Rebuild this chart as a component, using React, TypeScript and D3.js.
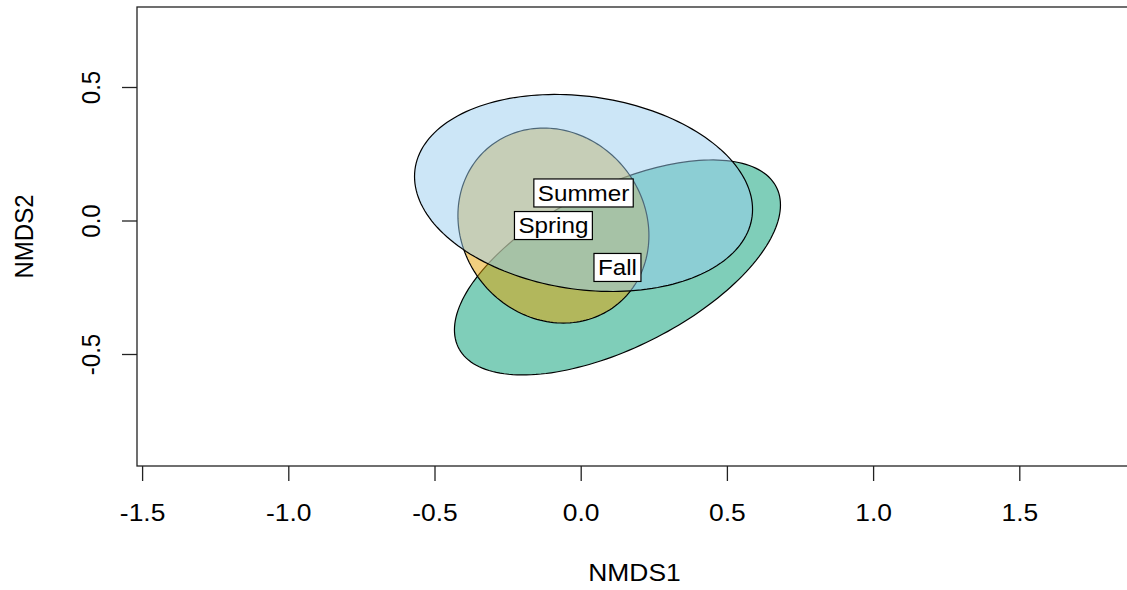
import { useEffect, useRef } from "react";
import * as d3 from "d3";

const WIDTH = 1127;
const HEIGHT = 590;
const PLOT = { left: 137, right: 1132, top: 7, bottom: 466 };

// axis calibration (value -> pixel)
const X_DOMAIN = [-1.5, 1.5];
const X_RANGE = [142.6, 1019.8];
const Y_DOMAIN = [-0.5, 0.5];
const Y_RANGE = [354.5, 87.5];

const X_TICKS = [-1.5, -1.0, -0.5, 0.0, 0.5, 1.0, 1.5];
const Y_TICKS = [-0.5, 0.0, 0.5];

// ellipse groups, in drawing order (factor levels)
const GROUPS = ["Fall", "Spring", "Summer"];
const CENTER_X = [0.124, -0.095, 0.008];
const CENTER_Y = [-0.174, -0.017, 0.105];
const SD_X = [0.5575, 0.3266, 0.578];
const SD_Y = [0.4026, 0.3652, 0.369];
const CORR = [0.581, -0.103, -0.167];
const FILLS = ["#009E73", "#E69F00", "#99CDEF"];

const FONT = "'Liberation Sans', Arial, Helvetica, sans-serif";
const SX = 1.1; // the picture is slightly stretched horizontally

export default function App() {
  const svgRef = useRef<SVGSVGElement | null>(null);

  useEffect(() => {
    const svg = d3.select(svgRef.current);
    svg.selectAll("*").remove();

    const x = d3.scaleLinear().domain(X_DOMAIN).range(X_RANGE);
    const y = d3.scaleLinear().domain(Y_DOMAIN).range(Y_RANGE);

    // ellipses
    const angles = d3.range(0, 360, 2).map((d) => (d * Math.PI) / 180);
    const line = d3
      .line<[number, number]>()
      .x((p) => x(p[0]))
      .y((p) => y(p[1]))
      .curve(d3.curveLinearClosed);

    const ellG = svg.append("g").attr("class", "ellipses");
    GROUPS.forEach((g, i) => {
      const r = CORR[i];
      const pts = angles.map(
        (t) =>
          [
            CENTER_X[i] + SD_X[i] * Math.cos(t),
            CENTER_Y[i] + SD_Y[i] * (r * Math.cos(t) + Math.sqrt(1 - r * r) * Math.sin(t)),
          ] as [number, number]
      );
      ellG
        .append("path")
        .attr("d", line(pts))
        .attr("fill", FILLS[i])
        .attr("fill-opacity", 0.5)
        .attr("stroke", "#000")
        .attr("stroke-width", 1.2);
    });

    // group labels in white boxes
    const labG = svg.append("g").attr("class", "labels");
    GROUPS.forEach((g, i) => {
      const lg = labG
        .append("g")
        .attr("transform", `translate(${x(CENTER_X[i])},${y(CENTER_Y[i])})`);
      const rect = lg.append("rect");
      const txt = lg
        .append("text")
        .attr("transform", `scale(${SX},1)`)
        .attr("text-anchor", "middle")
        .attr("dominant-baseline", "central")
        .attr("font-family", FONT)
        .attr("font-size", 22)
        .attr("fill", "#000")
        .text(g);
      const tw = (txt.node() as SVGTextElement).getComputedTextLength() * SX;
      const bw = tw + 8;
      const bh = 28;
      rect
        .attr("x", -bw / 2)
        .attr("y", -bh / 2)
        .attr("width", bw)
        .attr("height", bh)
        .attr("fill", "#fff")
        .attr("stroke", "#000")
        .attr("stroke-width", 1.2);
    });

    // plot box
    svg
      .append("rect")
      .attr("x", PLOT.left)
      .attr("y", PLOT.top)
      .attr("width", PLOT.right - PLOT.left)
      .attr("height", PLOT.bottom - PLOT.top)
      .attr("fill", "none")
      .attr("stroke", "#222")
      .attr("stroke-width", 1.3);

    // x axis
    const xAx = svg.append("g").attr("class", "x-axis");
    X_TICKS.forEach((t) => {
      xAx
        .append("line")
        .attr("x1", x(t))
        .attr("x2", x(t))
        .attr("y1", PLOT.bottom)
        .attr("y2", PLOT.bottom + 15)
        .attr("stroke", "#222")
        .attr("stroke-width", 1.3);
      xAx
        .append("text")
        .attr("transform", `translate(${x(t)},521) scale(${SX},1)`)
        .attr("text-anchor", "middle")
        .attr("font-family", FONT)
        .attr("font-size", 24)
        .attr("fill", "#000")
        .text(t.toFixed(1));
    });

    // y axis
    const yAx = svg.append("g").attr("class", "y-axis");
    Y_TICKS.forEach((t) => {
      yAx
        .append("line")
        .attr("x1", PLOT.left)
        .attr("x2", PLOT.left - 15)
        .attr("y1", y(t))
        .attr("y2", y(t))
        .attr("stroke", "#222")
        .attr("stroke-width", 1.3);
      yAx
        .append("text")
        .attr("transform", `translate(100,${y(t)}) scale(${SX},1) rotate(-90)`)
        .attr("text-anchor", "middle")
        .attr("font-family", FONT)
        .attr("font-size", 24)
        .attr("fill", "#000")
        .text(t.toFixed(1));
    });

    // axis titles
    svg
      .append("text")
      .attr("transform", `translate(${(PLOT.left + PLOT.right) / 2},581) scale(${SX},1)`)
      .attr("text-anchor", "middle")
      .attr("font-family", FONT)
      .attr("font-size", 24)
      .attr("fill", "#000")
      .text("NMDS1");
    svg
      .append("text")
      .attr(
        "transform",
        `translate(33,${(PLOT.top + PLOT.bottom) / 2}) scale(${SX},1) rotate(-90)`
      )
      .attr("text-anchor", "middle")
      .attr("font-family", FONT)
      .attr("font-size", 24)
      .attr("fill", "#000")
      .text("NMDS2");
  }, []);

  return (
    <svg
      ref={svgRef}
      width={WIDTH}
      height={HEIGHT}
      viewBox={`0 0 ${WIDTH} ${HEIGHT}`}
      style={{ position: "absolute", left: 0, top: 0, background: "#fff" }}
    />
  );
}
